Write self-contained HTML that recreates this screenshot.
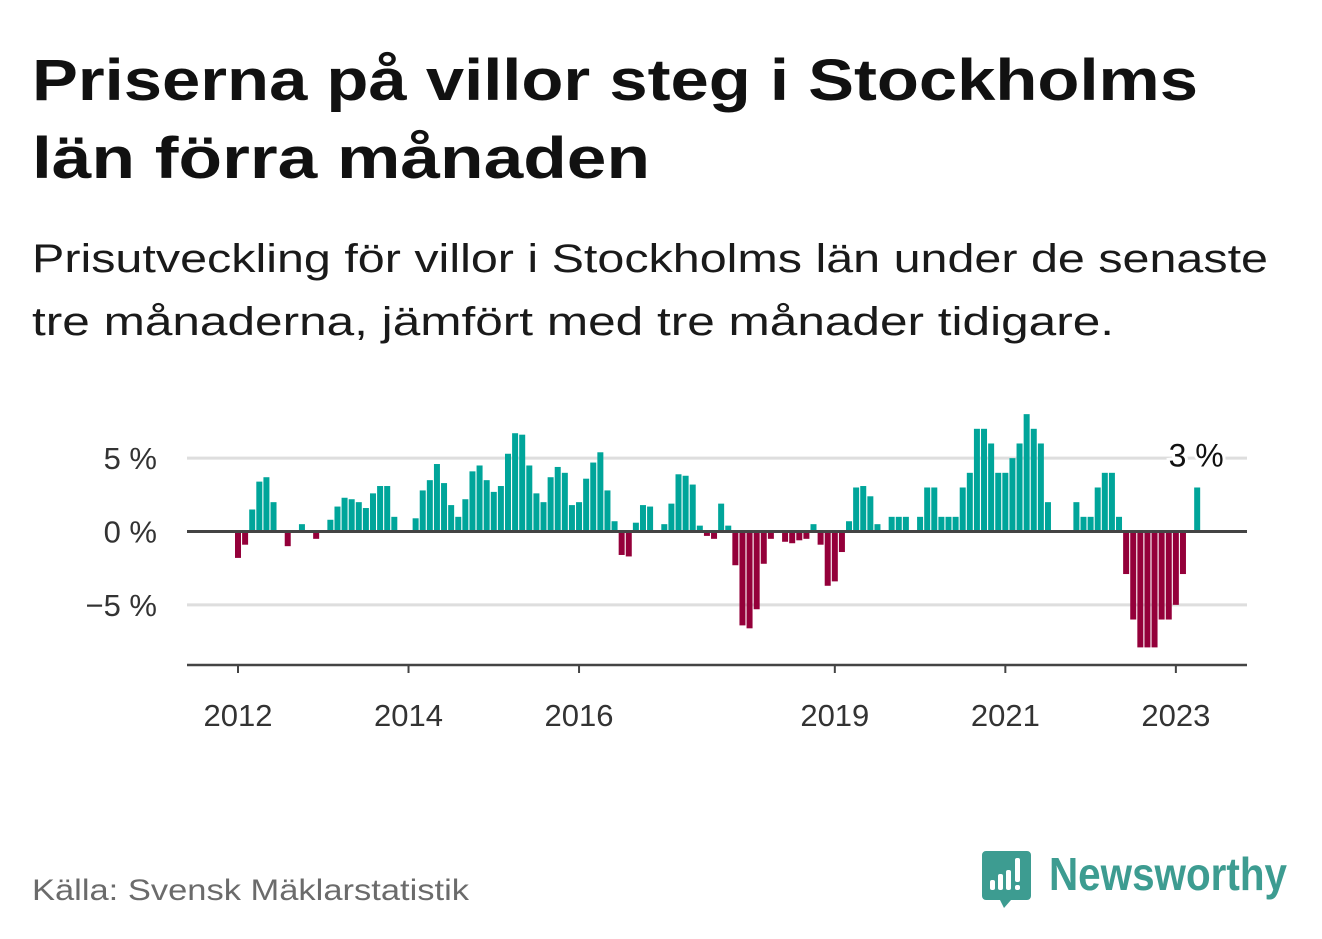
<!DOCTYPE html>
<html><head><meta charset="utf-8">
<style>
html,body{margin:0;padding:0;background:#fff;}
svg{display:block;font-family:"Liberation Sans",sans-serif;}
</style></head>
<body>
<svg id="chart" width="1322" height="939" viewBox="0 0 1322 939" xmlns="http://www.w3.org/2000/svg">
  <text x="32" y="100" font-size="58" font-weight="bold" fill="#111" textLength="1166" lengthAdjust="spacingAndGlyphs">Priserna på villor steg i Stockholms</text>
  <text x="32" y="178" font-size="58" font-weight="bold" fill="#111" textLength="618" lengthAdjust="spacingAndGlyphs">län förra månaden</text>
  <text x="32" y="272" font-size="40" fill="#1a1a1a" textLength="1236" lengthAdjust="spacingAndGlyphs">Prisutveckling för villor i Stockholms län under de senaste</text>
  <text x="32" y="335" font-size="40" fill="#1a1a1a" textLength="1082" lengthAdjust="spacingAndGlyphs">tre månaderna, jämfört med tre månader tidigare.</text>

  <g id="grid"></g>
  <g id="bars"></g>
  <g id="axes"></g>

  <text x="32" y="900" font-size="30" fill="#6b6b6b" textLength="437" lengthAdjust="spacingAndGlyphs">Källa: Svensk Mäklarstatistik</text>

  <g>
    <path d="M986 851 h41 a4 4 0 0 1 4 4 v41 a4 4 0 0 1 -4 4 h-16 l-7 8 l-4 -8 h-14 a4 4 0 0 1 -4 -4 v-41 a4 4 0 0 1 4 -4z" fill="#3d9c91"/>
    <rect x="990" y="880" width="5" height="10" rx="2" fill="#fff"/>
    <rect x="998" y="874" width="5" height="16" rx="2" fill="#fff"/>
    <rect x="1006" y="870" width="5" height="20" rx="2" fill="#fff"/>
    <rect x="1015" y="858" width="5" height="24" rx="2" fill="#fff"/>
    <rect x="1015" y="885" width="5" height="5" rx="2" fill="#fff"/>
    <text x="1049" y="890" font-size="46" font-weight="bold" fill="#3d9c91" textLength="238" lengthAdjust="spacingAndGlyphs">Newsworthy</text>
  </g>
</svg>
<script>
// Monthly values (%) starting Jan 2012, index 0..135 (Apr 2023)
const startYear = 2012;
const values = [
 -1.8,-0.9,1.5,3.4,3.7,2.0,0,-1.0,0,0.5,0,-0.5,
 0,0.8,1.7,2.3,2.2,2.0,1.6,2.6,3.1,3.1,1.0,0,
 0,0.9,2.8,3.5,4.6,3.3,1.8,1.0,2.2,4.1,4.5,3.5,
 2.7,3.1,5.3,6.7,6.6,4.5,2.6,2.0,3.7,4.4,4.0,1.8,
 2.0,3.6,4.7,5.4,2.8,0.7,-1.6,-1.7,0.6,1.8,1.7,0,
 0.5,1.9,3.9,3.8,3.2,0.4,-0.3,-0.5,1.9,0.4,-2.3,-6.4,
 -6.6,-5.3,-2.2,-0.5,0,-0.7,-0.8,-0.6,-0.5,0.5,-0.9,-3.7,
 -3.4,-1.4,0.7,3.0,3.1,2.4,0.5,0,1.0,1.0,1.0,0,
 1.0,3.0,3.0,1.0,1.0,1.0,3.0,4.0,7.0,7.0,6.0,4.0,
 4.0,5.0,6.0,8.0,7.0,6.0,2.0,0,0,0,2.0,1.0,
 1.0,3.0,4.0,4.0,1.0,-2.9,-6.0,-7.9,-7.9,-7.9,-6.0,-6.0,
 -5.0,-2.9,0,3.0
];
const tickYears = ["2012","2014","2016","2019","2021","2023"];
const yTicks = [5,0,-5];
const yTickLabels = ["5 %","0 %","−5 %"];
const lastLabel = "3 %";

const NS="http://www.w3.org/2000/svg";
const x0=238, step=7.105, y0=531.5, pxPer=14.67, left=187, right=1247;
function xScale(i){return x0+i*step;}
function yScale(v){return y0-v*pxPer;}
function mk(tag,attrs,parent){const e=document.createElementNS(NS,tag);for(const k in attrs)e.setAttribute(k,attrs[k]);parent.appendChild(e);return e;}

const grid=document.getElementById('grid'), bars=document.getElementById('bars'), axes=document.getElementById('axes');
yTicks.forEach((t,i)=>{
  if(t!==0){
    const l=mk('line',{x1:left,x2:right,y1:yScale(t),y2:yScale(t),stroke:'#dedede','stroke-width':3},grid);
    
    
  }
  const tx=mk('text',{x:157,y:yScale(t)+11,'font-size':31,fill:'#333','text-anchor':'end'},axes);
  tx.textContent=yTickLabels[i];
  
  
});
values.forEach((v,i)=>{
  if(v===0)return;
  const y=v>0?yScale(v):y0, h=Math.abs(v)*pxPer;
  const r=mk('rect',{x:xScale(i)-3,y:y,width:6,height:h,fill:v>0?'#00a59a':'#94003a'},bars);
  
  
});
const zl=mk('line',{x1:left,x2:right,y1:y0,y2:y0,stroke:'#444','stroke-width':3},axes);


const xa=mk('line',{x1:left,x2:right,y1:665,y2:665,stroke:'#444','stroke-width':2.5},axes);


tickYears.forEach(yr=>{
  const i=(parseInt(yr)-startYear)*12;
  const tk=mk('line',{x1:xScale(i),x2:xScale(i),y1:665,y2:673,stroke:'#444','stroke-width':2},axes);
  
  
  const t=mk('text',{x:xScale(i),y:726,'font-size':31,fill:'#333','text-anchor':'middle'},axes);
  t.textContent=yr;
  
  
});
const li=values.length-1;
const lab=mk('text',{x:xScale(li)-1,y:yScale(values[li])-21,'font-size':32,fill:'#111','text-anchor':'middle',stroke:'#fff','stroke-width':6,'paint-order':'stroke'},axes);
lab.textContent=lastLabel;


</script>
</body></html>
